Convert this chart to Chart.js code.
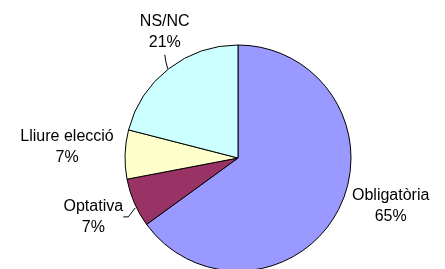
<!DOCTYPE html>
<html>
<head>
<meta charset="utf-8">
<script src="https://cdn.jsdelivr.net/npm/chart.js@4"></script>
<style>
  html, body { margin: 0; padding: 0; background: #fff; overflow: hidden; }
  #wrap { width: 445px; height: 280px; position: relative; }
</style>
</head>
<body>
<div id="wrap"><canvas id="chart"></canvas></div>
<script>
const labels = ["Obligatòria", "Optativa", "Lliure elecció", "NS/NC"];
const values = [65, 7, 7, 21];
const colors = ["#9999FF", "#993366", "#FFFFCC", "#CCFFFF"];

// label block offsets from the middle of each slice's outer edge
const labelOffsets = [[52, -3], [-41, 14], [-58, -7], [-4, -37]];

const outsideLabels = {
  id: "outsideLabels",
  afterDatasetsDraw(chart) {
    const ctx = chart.ctx;
    const meta = chart.getDatasetMeta(0);
    const total = values.reduce((a, b) => a + b, 0);
    ctx.save();
    ctx.font = "16px 'Liberation Sans', Arial, sans-serif";
    ctx.fillStyle = "#000";
    ctx.textAlign = "center";
    ctx.textBaseline = "middle";
    ctx.strokeStyle = "#000";
    ctx.lineWidth = 1;
    meta.data.forEach((arc, i) => {
      const p = arc.getProps(["x", "y", "startAngle", "endAngle", "outerRadius"], true);
      const mid = (p.startAngle + p.endAngle) / 2;
      const ax = p.x + Math.cos(mid) * p.outerRadius;
      const ay = p.y + Math.sin(mid) * p.outerRadius;
      const lx = ax + labelOffsets[i][0];
      const ly = ay + labelOffsets[i][1];
      const pct = Math.round(values[i] / total * 100) + "%";
      ctx.fillText(labels[i], lx, ly - 10.5);
      ctx.fillText(pct, lx, ly + 10.5);
      // leader lines
      if (i === 3) {
        ctx.beginPath();
        ctx.moveTo(ax - 1, ay);
        ctx.quadraticCurveTo(ax - 3, ay - 6, ax - 4, ay - 14);
        ctx.stroke();
      }
      if (i === 1) {
        ctx.beginPath();
        ctx.moveTo(ax + 1, ay + 5);
        ctx.lineTo(ax - 6, ay + 14);
        ctx.lineTo(ax - 11, ay + 14);
        ctx.stroke();
      }
    });
    ctx.restore();
  }
};

new Chart(document.getElementById("chart"), {
  type: "pie",
  data: {
    labels: labels,
    datasets: [
      {
        data: values,
        backgroundColor: colors,
        borderColor: "#000",
        borderWidth: 1,
      },
    ],
  },
  options: {
    responsive: true,
    maintainAspectRatio: false,
    animation: false,
    radius: 113,
    layout: {
      padding: { left: 125, right: 94, top: 45, bottom: 9 },
    },
    plugins: {
      legend: { display: false },
      tooltip: { enabled: false },
    },
  },
  plugins: [outsideLabels],
});
</script>
</body>
</html>
